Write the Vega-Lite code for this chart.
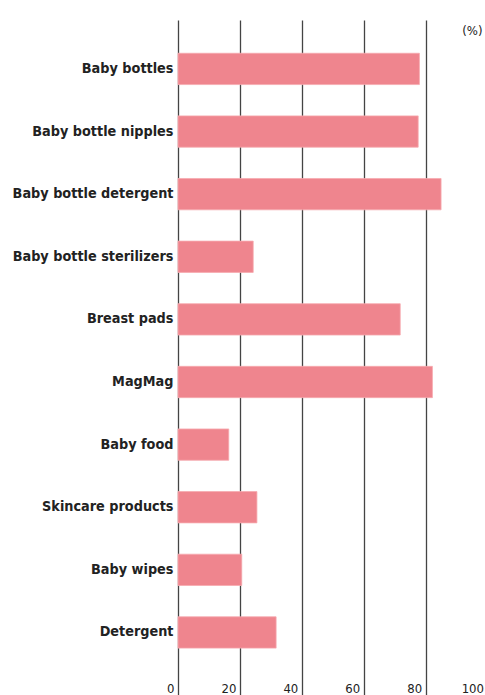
{
  "$schema": "https://vega.github.io/schema/vega-lite/v6.json",
  "autosize": {"type": "none"},
  "padding": {"left": 178, "top": 20, "right": 0, "bottom": 0},
  "width": 307,
  "height": 675,
  "background": "white",
  "title": {"text": "(%)", "anchor": "end", "orient": "top", "fontSize": 13, "fontWeight": "normal", "font": "DejaVu Sans Condensed", "color": "#222", "offset": -31, "dx": -5, "baseline": "bottom"},
  "data": {"values": [
    {"item": "Baby bottles", "pct": 78.0},
    {"item": "Baby bottle nipples", "pct": 77.6},
    {"item": "Baby bottle detergent", "pct": 85.0},
    {"item": "Baby bottle sterilizers", "pct": 24.3},
    {"item": "Breast pads", "pct": 71.8},
    {"item": "MagMag", "pct": 82.2},
    {"item": "Baby food", "pct": 16.4},
    {"item": "Skincare products", "pct": 25.5},
    {"item": "Baby wipes", "pct": 20.6},
    {"item": "Detergent", "pct": 31.7}
  ]},
  "mark": {"type": "bar", "color": "#EF858E", "stroke": "#F6A9AE", "strokeWidth": 0.8},
  "encoding": {
    "y": {"field": "item", "type": "nominal", "sort": null,
      "scale": {"paddingInner": 0.5, "paddingOuter": 0.64, "align": 0.415},
      "axis": {"title": null, "domain": false, "ticks": false, "labelPadding": 5, "labelFontSize": 14.3, "labelFont": "DejaVu Sans Condensed", "labelFontWeight": "bold", "labelColor": "#222"}},
    "x": {"field": "pct", "type": "quantitative",
      "scale": {"domain": [0, 100], "range": [0, 309.5], "nice": false},
      "axis": {"title": null, "values": [0, 20, 40, 60, 80, 100], "grid": true, "gridColor": "#444", "gridWidth": 1.3, "domain": false, "ticks": false, "labelAlign": "right", "labelOffset": -4, "labelPadding": -13, "labelFontSize": 13, "labelFont": "DejaVu Sans Condensed", "labelColor": "#222", "labelBaseline": "top"}}
  },
  "config": {"view": {"stroke": null}}
}
